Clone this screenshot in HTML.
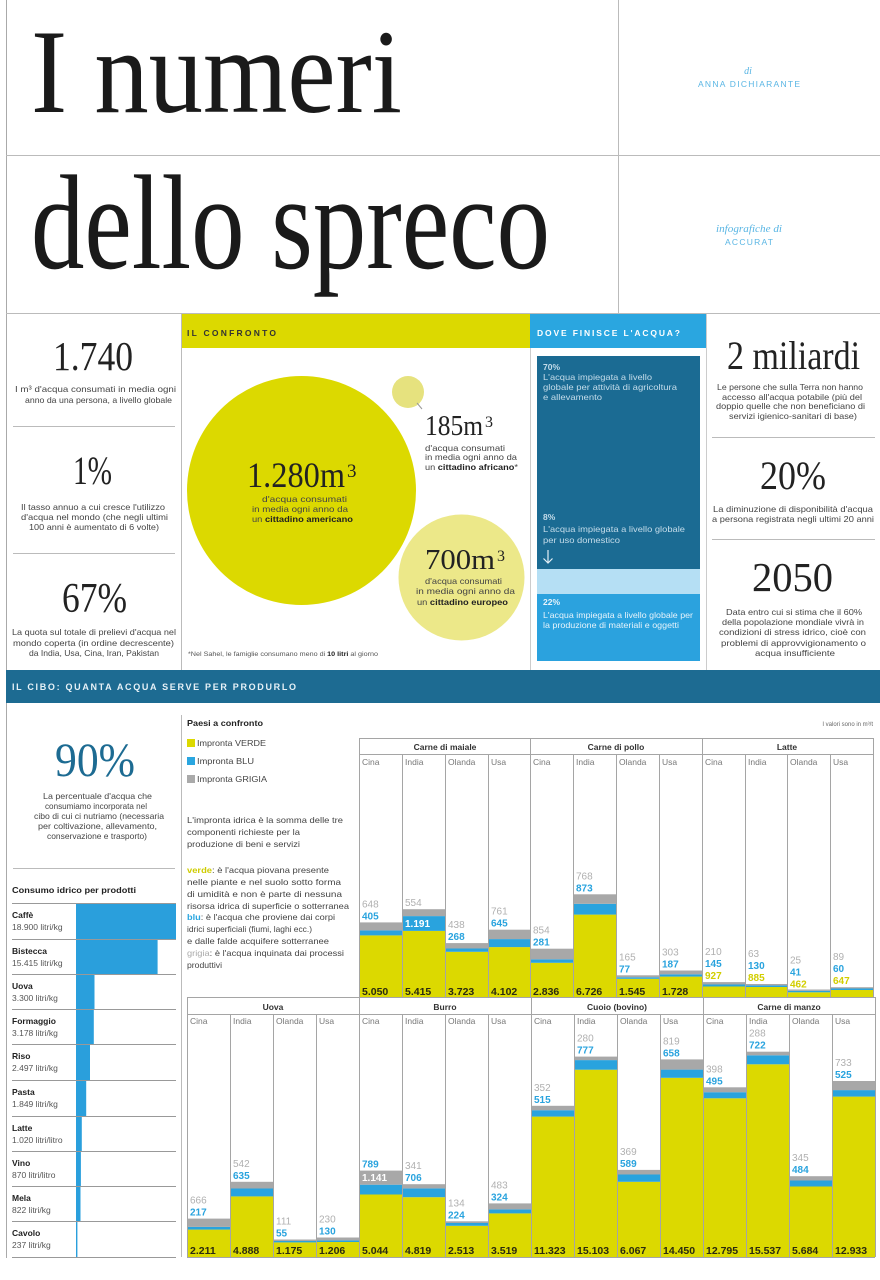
<!DOCTYPE html>
<html><head><meta charset="utf-8"><style>
html,body{margin:0;padding:0;background:#fff}
svg{display:block}
.s{font-family:"Liberation Sans",sans-serif}
.r{font-family:"Liberation Serif",serif}
.t{font-family:"Liberation Sans",sans-serif;font-size:8.5px;fill:#444}
.g{font-family:"Liberation Sans",sans-serif;font-size:10px;fill:#b0b0b0}
.b{font-family:"Liberation Sans",sans-serif;font-size:10px;fill:#29a3de;font-weight:bold}
.y{font-family:"Liberation Sans",sans-serif;font-size:10px;fill:#d2ce00;font-weight:bold}
.v{font-family:"Liberation Sans",sans-serif;font-size:10.5px;fill:#2a2a10;font-weight:bold}
.w{font-family:"Liberation Sans",sans-serif;font-size:10px;fill:#fff;font-weight:bold}
.c{font-family:"Liberation Sans",sans-serif;font-size:8.5px;fill:#777}
.h{font-family:"Liberation Sans",sans-serif;font-size:8.5px;fill:#333;font-weight:bold}
.pn{font-family:"Liberation Sans",sans-serif;font-size:8.5px;fill:#222;font-weight:bold}
.pv{font-family:"Liberation Sans",sans-serif;font-size:8.5px;fill:#555}
.dk{font-family:"Liberation Sans",sans-serif;font-size:8.5px;fill:#c4dcea}
.md{font-family:"Liberation Sans",sans-serif;font-size:8.5px;fill:#e6f3fb}
</style></head><body>
<svg width="880" height="1280" viewBox="0 0 880 1280" xmlns="http://www.w3.org/2000/svg">
<rect width="880" height="1280" fill="#fff"/>

<!-- frame lines -->
<line x1="6.5" y1="0" x2="6.5" y2="1258" stroke="#aaa" stroke-width="1"/>
<line x1="6" y1="155.5" x2="880" y2="155.5" stroke="#bbb"/>
<line x1="6" y1="313.5" x2="880" y2="313.5" stroke="#bbb"/>
<line x1="618.5" y1="0" x2="618.5" y2="313" stroke="#bbb"/>

<!-- title -->
<text x="31" y="112" class="r" font-size="120" fill="#1a1a1a" textLength="371" lengthAdjust="spacingAndGlyphs">I numeri</text>
<text x="31" y="268" class="r" font-size="135" fill="#1a1a1a" textLength="519" lengthAdjust="spacingAndGlyphs">dello spreco</text>

<!-- credits -->
<text x="748" y="74" class="r" font-size="10" font-style="italic" fill="#5ab6e4" text-anchor="middle">di</text>
<text x="698" y="87" class="s" font-size="8.5" fill="#5ab6e4" textLength="102">ANNA DICHIARANTE</text>
<text x="716" y="232" class="r" font-size="10.5" font-style="italic" fill="#5ab6e4" textLength="66" lengthAdjust="spacingAndGlyphs">infografiche di</text>
<text x="725" y="245" class="s" font-size="8.5" fill="#5ab6e4" textLength="48">ACCURAT</text>

<!-- row 3 bands -->
<rect x="182" y="314" width="348" height="34" fill="#dcd900"/>
<text x="187" y="336" class="s" font-size="8.5" font-weight="bold" fill="#333" textLength="89">IL CONFRONTO</text>
<rect x="530" y="314" width="176" height="34" fill="#2aa6e0"/>
<text x="537" y="336" class="s" font-size="8.5" font-weight="bold" fill="#fff" textLength="143">DOVE FINISCE L'ACQUA?</text>
<line x1="181.5" y1="314" x2="181.5" y2="670" stroke="#bbb"/>
<line x1="530.5" y1="348" x2="530.5" y2="670" stroke="#ccc"/>
<line x1="706.5" y1="314" x2="706.5" y2="670" stroke="#ccc"/>

<!-- left stats -->
<text x="53" y="370" class="r" font-size="41" fill="#222" textLength="80" lengthAdjust="spacingAndGlyphs">1.740</text>
<text x="15" y="392" class="t" textLength="161" lengthAdjust="spacingAndGlyphs">I m³ d'acqua consumati in media ogni</text>
<text x="25" y="403" class="t" textLength="147" lengthAdjust="spacingAndGlyphs">anno da una persona, a livello globale</text>
<line x1="13" y1="426.5" x2="175" y2="426.5" stroke="#bbb"/>
<text x="73" y="484" class="r" font-size="40" fill="#222" textLength="39" lengthAdjust="spacingAndGlyphs">1%</text>
<text x="21" y="510" class="t" textLength="144" lengthAdjust="spacingAndGlyphs">Il tasso annuo a cui cresce l'utilizzo</text>
<text x="21" y="520" class="t" textLength="147" lengthAdjust="spacingAndGlyphs">d'acqua nel mondo (che negli ultimi</text>
<text x="29" y="530" class="t" textLength="130" lengthAdjust="spacingAndGlyphs">100 anni è aumentato di 6 volte)</text>
<line x1="13" y1="553.5" x2="175" y2="553.5" stroke="#bbb"/>
<text x="62" y="612" class="r" font-size="42" fill="#222" textLength="65" lengthAdjust="spacingAndGlyphs">67%</text>
<text x="12" y="635" class="t" textLength="164" lengthAdjust="spacingAndGlyphs">La quota sul totale di prelievi d'acqua nel</text>
<text x="13" y="646" class="t" textLength="161" lengthAdjust="spacingAndGlyphs">mondo coperta (in ordine decrescente)</text>
<text x="29" y="656" class="t" textLength="130" lengthAdjust="spacingAndGlyphs">da India, Usa, Cina, Iran, Pakistan</text>

<!-- bubbles -->
<circle cx="301.5" cy="490.5" r="114.5" fill="#dcd900"/>
<circle cx="408" cy="392" r="16" fill="#e6e27e"/>
<line x1="417" y1="403" x2="422" y2="409" stroke="#999" stroke-width="1"/>
<circle cx="461.5" cy="577.5" r="63" fill="#ece889"/>
<text x="247" y="487" class="r" font-size="36" fill="#222" textLength="98" lengthAdjust="spacingAndGlyphs">1.280m</text>
<text x="347" y="477" class="r" font-size="19" fill="#222">3</text>
<text x="262" y="502" class="t" fill="#333" textLength="85" lengthAdjust="spacingAndGlyphs">d'acqua consumati</text>
<text x="252" y="512" class="t" textLength="96" lengthAdjust="spacingAndGlyphs">in media ogni anno da</text>
<text x="252" y="522" class="t" textLength="101" lengthAdjust="spacingAndGlyphs">un <tspan font-weight="bold" fill="#222">cittadino americano</tspan></text>
<text x="425" y="435" class="r" font-size="29" fill="#222" textLength="58" lengthAdjust="spacingAndGlyphs">185m</text>
<text x="485" y="427" class="r" font-size="16" fill="#222">3</text>
<text x="425" y="451" class="t" textLength="80" lengthAdjust="spacingAndGlyphs">d'acqua consumati</text>
<text x="425" y="460" class="t" textLength="92" lengthAdjust="spacingAndGlyphs">in media ogni anno da</text>
<text x="425" y="470" class="t" textLength="93" lengthAdjust="spacingAndGlyphs">un <tspan font-weight="bold" fill="#222">cittadino africano</tspan>*</text>
<text x="425" y="569" class="r" font-size="29" fill="#222" textLength="70" lengthAdjust="spacingAndGlyphs">700m</text>
<text x="497" y="561" class="r" font-size="16" fill="#222">3</text>
<text x="425" y="584" class="t" textLength="77" lengthAdjust="spacingAndGlyphs">d'acqua consumati</text>
<text x="416" y="594" class="t" textLength="99" lengthAdjust="spacingAndGlyphs">in media ogni anno da</text>
<text x="417" y="605" class="t" textLength="91" lengthAdjust="spacingAndGlyphs">un <tspan font-weight="bold" fill="#222">cittadino europeo</tspan></text>
<text x="188" y="656" class="s" font-size="6" fill="#555" textLength="190" lengthAdjust="spacingAndGlyphs">*Nel Sahel, le famiglie consumano meno di <tspan font-weight="bold" fill="#222">10 litri</tspan> al giorno</text>

<!-- blue panel -->
<rect x="537" y="356" width="163" height="213" fill="#1b6b93"/>
<rect x="537" y="569" width="163" height="25" fill="#b5dff4"/>
<rect x="537" y="594" width="163" height="67" fill="#2ba2de"/>
<text x="543" y="370" class="dk" font-weight="bold" fill="#e3eff6">70%</text>
<text x="543" y="380" class="dk" textLength="109" lengthAdjust="spacingAndGlyphs">L'acqua impiegata a livello</text>
<text x="543" y="390" class="dk" textLength="134" lengthAdjust="spacingAndGlyphs">globale per attività di agricoltura</text>
<text x="543" y="400" class="dk" textLength="59" lengthAdjust="spacingAndGlyphs">e allevamento</text>
<text x="543" y="520" class="dk" font-weight="bold" fill="#e3eff6">8%</text>
<text x="543" y="532" class="dk" textLength="142" lengthAdjust="spacingAndGlyphs">L'acqua impiegata a livello globale</text>
<text x="543" y="543" class="dk" textLength="77" lengthAdjust="spacingAndGlyphs">per uso domestico</text>
<path d="M548 550 V563 M543.5 558.5 L548 563 L552.5 558.5" stroke="#e3eff6" stroke-width="1.2" fill="none"/>
<text x="543" y="605" class="md" font-weight="bold">22%</text>
<text x="543" y="618" class="md" textLength="150" lengthAdjust="spacingAndGlyphs">L'acqua impiegata a livello globale per</text>
<text x="543" y="628" class="md" textLength="136" lengthAdjust="spacingAndGlyphs">la produzione di materiali e oggetti</text>

<!-- right stats -->
<text x="727" y="369" class="r" font-size="40" fill="#222" textLength="133" lengthAdjust="spacingAndGlyphs">2 miliardi</text>
<text x="717" y="390" class="t" textLength="146" lengthAdjust="spacingAndGlyphs">Le persone che sulla Terra non hanno</text>
<text x="722" y="400" class="t" textLength="140" lengthAdjust="spacingAndGlyphs">accesso all'acqua potabile (più del</text>
<text x="716" y="409" class="t" textLength="149" lengthAdjust="spacingAndGlyphs">doppio quelle che non beneficiano di</text>
<text x="729" y="419" class="t" textLength="128" lengthAdjust="spacingAndGlyphs">servizi igienico-sanitari di base)</text>
<line x1="712" y1="437.5" x2="875" y2="437.5" stroke="#bbb"/>
<text x="760" y="489" class="r" font-size="40" fill="#222" textLength="66" lengthAdjust="spacingAndGlyphs">20%</text>
<text x="713" y="512" class="t" textLength="160" lengthAdjust="spacingAndGlyphs">La diminuzione di disponibilità d'acqua</text>
<text x="712" y="522" class="t" textLength="162" lengthAdjust="spacingAndGlyphs">a persona registrata negli ultimi 20 anni</text>
<line x1="712" y1="539.5" x2="875" y2="539.5" stroke="#bbb"/>
<text x="752" y="591" class="r" font-size="41" fill="#222" textLength="81" lengthAdjust="spacingAndGlyphs">2050</text>
<text x="726" y="615" class="t" textLength="136" lengthAdjust="spacingAndGlyphs">Data entro cui si stima che il 60%</text>
<text x="722" y="625" class="t" textLength="142" lengthAdjust="spacingAndGlyphs">della popolazione mondiale vivrà in</text>
<text x="719" y="635" class="t" textLength="147" lengthAdjust="spacingAndGlyphs">condizioni di stress idrico, cioè con</text>
<text x="721" y="646" class="t" textLength="145" lengthAdjust="spacingAndGlyphs">problemi di approvvigionamento o</text>
<text x="755" y="656" class="t" textLength="80" lengthAdjust="spacingAndGlyphs">acqua insufficiente</text>

<!-- teal band -->
<rect x="6" y="670" width="874" height="33" fill="#1d6b92"/>
<text x="12" y="690" class="s" font-size="9" font-weight="bold" fill="#e6f1f7" textLength="284">IL CIBO: QUANTA ACQUA SERVE PER PRODURLO</text>

<!-- bottom left -->
<text x="55" y="776" class="r" font-size="48" fill="#1d6b92" textLength="80" lengthAdjust="spacingAndGlyphs">90%</text>
<text x="43" y="799" class="t" textLength="109" lengthAdjust="spacingAndGlyphs">La percentuale d'acqua che</text>
<text x="45" y="809" class="t" textLength="102" lengthAdjust="spacingAndGlyphs">consumiamo incorporata nel</text>
<text x="34" y="819" class="t" textLength="130" lengthAdjust="spacingAndGlyphs">cibo di cui ci nutriamo (necessaria</text>
<text x="38" y="829" class="t" textLength="119" lengthAdjust="spacingAndGlyphs">per coltivazione, allevamento,</text>
<text x="47" y="839" class="t" textLength="100" lengthAdjust="spacingAndGlyphs">conservazione e trasporto)</text>
<line x1="13" y1="868.5" x2="175" y2="868.5" stroke="#bbb"/>
<text x="12" y="893" class="s" font-size="8.5" font-weight="bold" fill="#222" textLength="124" lengthAdjust="spacingAndGlyphs">Consumo idrico per prodotti</text>

<!-- product bars -->
<rect x="76" y="903" width="100" height="36" fill="#2a9fdc"/>
<rect x="76" y="939" width="81.6" height="35" fill="#2a9fdc"/>
<rect x="76" y="974" width="18.5" height="35" fill="#2a9fdc"/>
<rect x="76" y="1009" width="17.8" height="35" fill="#2a9fdc"/>
<rect x="76" y="1044" width="14" height="36" fill="#2a9fdc"/>
<rect x="76" y="1080" width="10.2" height="36" fill="#2a9fdc"/>
<rect x="76" y="1116" width="5.8" height="35" fill="#2a9fdc"/>
<rect x="76" y="1151" width="4.9" height="35" fill="#2a9fdc"/>
<rect x="76" y="1186" width="4.5" height="35" fill="#2a9fdc"/>
<rect x="76" y="1221" width="1.4" height="36" fill="#2a9fdc"/>
<g stroke="#999" stroke-width="1">
<line x1="12" y1="903.5" x2="176" y2="903.5"/>
<line x1="12" y1="939.5" x2="176" y2="939.5"/>
<line x1="12" y1="974.5" x2="176" y2="974.5"/>
<line x1="12" y1="1009.5" x2="176" y2="1009.5"/>
<line x1="12" y1="1044.5" x2="176" y2="1044.5"/>
<line x1="12" y1="1080.5" x2="176" y2="1080.5"/>
<line x1="12" y1="1116.5" x2="176" y2="1116.5"/>
<line x1="12" y1="1151.5" x2="176" y2="1151.5"/>
<line x1="12" y1="1186.5" x2="176" y2="1186.5"/>
<line x1="12" y1="1221.5" x2="176" y2="1221.5"/>
<line x1="12" y1="1257.5" x2="176" y2="1257.5"/>
</g>
<text x="12" y="918" class="pn">Caffè</text><text x="12" y="930" class="pv">18.900 litri/kg</text>
<text x="12" y="954" class="pn">Bistecca</text><text x="12" y="966" class="pv">15.415 litri/kg</text>
<text x="12" y="989" class="pn">Uova</text><text x="12" y="1001" class="pv">3.300 litri/kg</text>
<text x="12" y="1024" class="pn">Formaggio</text><text x="12" y="1036" class="pv">3.178 litri/kg</text>
<text x="12" y="1059" class="pn">Riso</text><text x="12" y="1071" class="pv">2.497 litri/kg</text>
<text x="12" y="1095" class="pn">Pasta</text><text x="12" y="1107" class="pv">1.849 litri/kg</text>
<text x="12" y="1131" class="pn">Latte</text><text x="12" y="1143" class="pv">1.020 litri/litro</text>
<text x="12" y="1166" class="pn">Vino</text><text x="12" y="1178" class="pv">870 litri/litro</text>
<text x="12" y="1201" class="pn">Mela</text><text x="12" y="1213" class="pv">822 litri/kg</text>
<text x="12" y="1236" class="pn">Cavolo</text><text x="12" y="1248" class="pv">237 litri/kg</text>

<!-- middle legend & text -->
<line x1="181.5" y1="715" x2="181.5" y2="1257" stroke="#bbb"/>
<text x="187" y="726" class="s" font-size="8.5" font-weight="bold" fill="#222" textLength="76" lengthAdjust="spacingAndGlyphs">Paesi a confronto</text>
<rect x="187" y="739" width="8" height="8" fill="#dcd900"/>
<text x="197" y="746" class="t" textLength="69" lengthAdjust="spacingAndGlyphs">Impronta VERDE</text>
<rect x="187" y="757" width="8" height="8" fill="#2aa6e0"/>
<text x="197" y="764" class="t" textLength="57" lengthAdjust="spacingAndGlyphs">Impronta BLU</text>
<rect x="187" y="775" width="8" height="8" fill="#aaa"/>
<text x="197" y="782" class="t" textLength="70" lengthAdjust="spacingAndGlyphs">Impronta GRIGIA</text>
<text x="873" y="726" class="s" font-size="6" fill="#666" text-anchor="end">I valori sono in m³/t</text>

<text x="187" y="823" class="t" textLength="156" lengthAdjust="spacingAndGlyphs">L'impronta idrica è la somma delle tre</text>
<text x="187" y="835" class="t" textLength="113" lengthAdjust="spacingAndGlyphs">componenti richieste per la</text>
<text x="187" y="847" class="t" textLength="113" lengthAdjust="spacingAndGlyphs">produzione di beni e servizi</text>
<text x="187" y="873" class="t" textLength="142" lengthAdjust="spacingAndGlyphs"><tspan fill="#cfcc00" font-weight="bold">verde</tspan>: è l'acqua piovana presente</text>
<text x="187" y="885" class="t" textLength="154" lengthAdjust="spacingAndGlyphs">nelle piante e nel suolo sotto forma</text>
<text x="187" y="897" class="t" textLength="155" lengthAdjust="spacingAndGlyphs">di umidità e non è parte di nessuna</text>
<text x="187" y="909" class="t" textLength="162" lengthAdjust="spacingAndGlyphs">risorsa idrica di superficie o sotterranea</text>
<text x="187" y="920" class="t" textLength="148" lengthAdjust="spacingAndGlyphs"><tspan fill="#2aa6e0" font-weight="bold">blu</tspan>: è l'acqua che proviene dai corpi</text>
<text x="187" y="932" class="t" textLength="125" lengthAdjust="spacingAndGlyphs">idrici superficiali (fiumi, laghi ecc.)</text>
<text x="187" y="944" class="t" textLength="142" lengthAdjust="spacingAndGlyphs">e dalle falde acquifere sotterranee</text>
<text x="187" y="956" class="t" textLength="157" lengthAdjust="spacingAndGlyphs"><tspan fill="#aaa">grigia</tspan>: è l'acqua inquinata dai processi</text>
<text x="187" y="968" class="t" textLength="35" lengthAdjust="spacingAndGlyphs">produttivi</text>

<!-- ===== TOP CHART ===== -->
<g>
<!-- Maiale -->
<rect x="359" y="935.4" width="43" height="62.6" fill="#dcd900"/><rect x="359" y="930.4" width="43" height="5" fill="#29a3de"/><rect x="359" y="922.4" width="43" height="8" fill="#a8a8a8"/>
<rect x="402" y="930.9" width="43" height="67.1" fill="#dcd900"/><rect x="402" y="916.1" width="43" height="14.8" fill="#29a3de"/><rect x="402" y="909.2" width="43" height="6.9" fill="#a8a8a8"/>
<rect x="445" y="951.8" width="43" height="46.2" fill="#dcd900"/><rect x="445" y="948.5" width="43" height="3.3" fill="#29a3de"/><rect x="445" y="943.1" width="43" height="5.4" fill="#a8a8a8"/>
<rect x="488" y="947.1" width="42" height="50.9" fill="#dcd900"/><rect x="488" y="939.1" width="42" height="8" fill="#29a3de"/><rect x="488" y="929.7" width="42" height="9.4" fill="#a8a8a8"/>
<!-- Pollo -->
<rect x="530" y="962.8" width="43" height="35.2" fill="#dcd900"/><rect x="530" y="959.3" width="43" height="3.5" fill="#29a3de"/><rect x="530" y="948.7" width="43" height="10.6" fill="#a8a8a8"/>
<rect x="573" y="914.6" width="43" height="83.4" fill="#dcd900"/><rect x="573" y="903.8" width="43" height="10.8" fill="#29a3de"/><rect x="573" y="894.3" width="43" height="9.5" fill="#a8a8a8"/>
<rect x="616" y="978.8" width="43" height="19.2" fill="#dcd900"/><rect x="616" y="977.3" width="43" height="1.5" fill="#29a3de"/><rect x="616" y="975.3" width="43" height="2" fill="#a8a8a8"/>
<rect x="659" y="976.6" width="43" height="21.4" fill="#dcd900"/><rect x="659" y="974.3" width="43" height="2.3" fill="#29a3de"/><rect x="659" y="970.5" width="43" height="3.8" fill="#a8a8a8"/>
<!-- Latte -->
<rect x="702" y="986.5" width="43" height="11.5" fill="#dcd900"/><rect x="702" y="984.5" width="43" height="2" fill="#29a3de"/><rect x="702" y="982.1" width="43" height="2.4" fill="#a8a8a8"/>
<rect x="745" y="987" width="42" height="11" fill="#dcd900"/><rect x="745" y="985.4" width="42" height="1.6" fill="#29a3de"/><rect x="745" y="984" width="42" height="1.4" fill="#a8a8a8"/>
<rect x="787" y="992.3" width="43" height="5.7" fill="#dcd900"/><rect x="787" y="990.8" width="43" height="1.5" fill="#29a3de"/><rect x="787" y="989.5" width="43" height="1.3" fill="#a8a8a8"/>
<rect x="830" y="990" width="43" height="8" fill="#dcd900"/><rect x="830" y="988.5" width="43" height="1.5" fill="#29a3de"/><rect x="830" y="987.2" width="43" height="1.3" fill="#a8a8a8"/>
</g>
<g stroke="#a5a5a5" stroke-width="1">
<line x1="359" y1="738.5" x2="873" y2="738.5"/>
<line x1="359" y1="754.5" x2="873" y2="754.5"/>
<line x1="359.5" y1="738" x2="359.5" y2="998"/>
<line x1="402.5" y1="754" x2="402.5" y2="998"/>
<line x1="445.5" y1="754" x2="445.5" y2="998"/>
<line x1="488.5" y1="754" x2="488.5" y2="998"/>
<line x1="530.5" y1="738" x2="530.5" y2="998"/>
<line x1="573.5" y1="754" x2="573.5" y2="998"/>
<line x1="616.5" y1="754" x2="616.5" y2="998"/>
<line x1="659.5" y1="754" x2="659.5" y2="998"/>
<line x1="702.5" y1="738" x2="702.5" y2="998"/>
<line x1="745.5" y1="754" x2="745.5" y2="998"/>
<line x1="787.5" y1="754" x2="787.5" y2="998"/>
<line x1="830.5" y1="754" x2="830.5" y2="998"/>
<line x1="873.5" y1="738" x2="873.5" y2="998"/>
</g>
<text x="445" y="750" class="h" text-anchor="middle">Carne di maiale</text>
<text x="616" y="750" class="h" text-anchor="middle">Carne di pollo</text>
<text x="787" y="750" class="h" text-anchor="middle">Latte</text>
<text x="362" y="765" class="c">Cina</text><text x="405" y="765" class="c">India</text><text x="448" y="765" class="c">Olanda</text><text x="491" y="765" class="c">Usa</text>
<text x="533" y="765" class="c">Cina</text><text x="576" y="765" class="c">India</text><text x="619" y="765" class="c">Olanda</text><text x="662" y="765" class="c">Usa</text>
<text x="705" y="765" class="c">Cina</text><text x="748" y="765" class="c">India</text><text x="790" y="765" class="c">Olanda</text><text x="833" y="765" class="c">Usa</text>

<text x="362" y="907.4" class="g">648</text><text x="362" y="919.4" class="b">405</text><text x="362" y="995" class="v">5.050</text>
<text x="405" y="906" class="g">554</text><text x="405" y="927" class="w">1.191</text><text x="405" y="995" class="v">5.415</text>
<text x="448" y="928.1" class="g">438</text><text x="448" y="940.1" class="b">268</text><text x="448" y="995" class="v">3.723</text>
<text x="491" y="914.7" class="g">761</text><text x="491" y="926.7" class="b">645</text><text x="491" y="995" class="v">4.102</text>
<text x="533" y="933.7" class="g">854</text><text x="533" y="945.7" class="b">281</text><text x="533" y="995" class="v">2.836</text>
<text x="576" y="879.3" class="g">768</text><text x="576" y="891.3" class="b">873</text><text x="576" y="995" class="v">6.726</text>
<text x="619" y="960.3" class="g">165</text><text x="619" y="972.3" class="b">77</text><text x="619" y="995" class="v">1.545</text>
<text x="662" y="955.5" class="g">303</text><text x="662" y="967.5" class="b">187</text><text x="662" y="995" class="v">1.728</text>
<text x="705" y="955" class="g">210</text><text x="705" y="967" class="b">145</text><text x="705" y="979" class="y">927</text>
<text x="748" y="957" class="g">63</text><text x="748" y="969" class="b">130</text><text x="748" y="981" class="y">885</text>
<text x="790" y="963.5" class="g">25</text><text x="790" y="975.5" class="b">41</text><text x="790" y="987.5" class="y">462</text>
<text x="833" y="960" class="g">89</text><text x="833" y="972" class="b">60</text><text x="833" y="984" class="y">647</text>

<!-- ===== BOTTOM CHART ===== -->
<g>
<rect x="187" y="1229.6" width="43" height="27.4" fill="#dcd900"/><rect x="187" y="1226.9" width="43" height="2.7" fill="#29a3de"/><rect x="187" y="1218.6" width="43" height="8.3" fill="#a8a8a8"/>
<rect x="230" y="1196.4" width="43" height="60.6" fill="#dcd900"/><rect x="230" y="1188.5" width="43" height="7.9" fill="#29a3de"/><rect x="230" y="1181.8" width="43" height="6.7" fill="#a8a8a8"/>
<rect x="273" y="1242.4" width="43" height="14.6" fill="#dcd900"/><rect x="273" y="1241" width="43" height="1.4" fill="#29a3de"/><rect x="273" y="1239.5" width="43" height="1.5" fill="#a8a8a8"/>
<rect x="316" y="1242" width="43" height="15" fill="#dcd900"/><rect x="316" y="1240.4" width="43" height="1.6" fill="#29a3de"/><rect x="316" y="1237.5" width="43" height="2.9" fill="#a8a8a8"/>
<rect x="359" y="1194.5" width="43" height="62.5" fill="#dcd900"/><rect x="359" y="1184.7" width="43" height="9.8" fill="#29a3de"/><rect x="359" y="1170.6" width="43" height="14.1" fill="#a8a8a8"/>
<rect x="402" y="1197.2" width="43" height="59.8" fill="#dcd900"/><rect x="402" y="1188.4" width="43" height="8.8" fill="#29a3de"/><rect x="402" y="1184.2" width="43" height="4.2" fill="#a8a8a8"/>
<rect x="445" y="1225.8" width="43" height="31.2" fill="#dcd900"/><rect x="445" y="1223" width="43" height="2.8" fill="#29a3de"/><rect x="445" y="1221.3" width="43" height="1.7" fill="#a8a8a8"/>
<rect x="488" y="1213.4" width="43" height="43.6" fill="#dcd900"/><rect x="488" y="1209.4" width="43" height="4" fill="#29a3de"/><rect x="488" y="1203.4" width="43" height="6" fill="#a8a8a8"/>
<rect x="531" y="1116.6" width="43" height="140.4" fill="#dcd900"/><rect x="531" y="1110.2" width="43" height="6.4" fill="#29a3de"/><rect x="531" y="1105.8" width="43" height="4.4" fill="#a8a8a8"/>
<rect x="574" y="1069.7" width="43" height="187.3" fill="#dcd900"/><rect x="574" y="1060.1" width="43" height="9.6" fill="#29a3de"/><rect x="574" y="1056.6" width="43" height="3.5" fill="#a8a8a8"/>
<rect x="617" y="1181.8" width="43" height="75.2" fill="#dcd900"/><rect x="617" y="1174.5" width="43" height="7.3" fill="#29a3de"/><rect x="617" y="1169.9" width="43" height="4.6" fill="#a8a8a8"/>
<rect x="660" y="1077.8" width="43" height="179.2" fill="#dcd900"/><rect x="660" y="1069.6" width="43" height="8.2" fill="#29a3de"/><rect x="660" y="1059.4" width="43" height="10.2" fill="#a8a8a8"/>
<rect x="703" y="1098.3" width="43" height="158.7" fill="#dcd900"/><rect x="703" y="1092.2" width="43" height="6.1" fill="#29a3de"/><rect x="703" y="1087.3" width="43" height="4.9" fill="#a8a8a8"/>
<rect x="746" y="1064.3" width="43" height="192.7" fill="#dcd900"/><rect x="746" y="1055.3" width="43" height="9" fill="#29a3de"/><rect x="746" y="1051.7" width="43" height="3.6" fill="#a8a8a8"/>
<rect x="789" y="1186.5" width="43" height="70.5" fill="#dcd900"/><rect x="789" y="1180.5" width="43" height="6" fill="#29a3de"/><rect x="789" y="1176.2" width="43" height="4.3" fill="#a8a8a8"/>
<rect x="832" y="1096.6" width="43" height="160.4" fill="#dcd900"/><rect x="832" y="1090.1" width="43" height="6.5" fill="#29a3de"/><rect x="832" y="1081" width="43" height="9.1" fill="#a8a8a8"/>
</g>
<g stroke="#a5a5a5" stroke-width="1">
<line x1="187" y1="997.5" x2="875" y2="997.5"/>
<line x1="187" y1="1014.5" x2="875" y2="1014.5"/>
<line x1="187" y1="1257.5" x2="875" y2="1257.5"/>
<line x1="187.5" y1="997" x2="187.5" y2="1257"/>
<line x1="230.5" y1="1014" x2="230.5" y2="1257"/>
<line x1="273.5" y1="1014" x2="273.5" y2="1257"/>
<line x1="316.5" y1="1014" x2="316.5" y2="1257"/>
<line x1="359.5" y1="997" x2="359.5" y2="1257"/>
<line x1="402.5" y1="1014" x2="402.5" y2="1257"/>
<line x1="445.5" y1="1014" x2="445.5" y2="1257"/>
<line x1="488.5" y1="1014" x2="488.5" y2="1257"/>
<line x1="531.5" y1="997" x2="531.5" y2="1257"/>
<line x1="574.5" y1="1014" x2="574.5" y2="1257"/>
<line x1="617.5" y1="1014" x2="617.5" y2="1257"/>
<line x1="660.5" y1="1014" x2="660.5" y2="1257"/>
<line x1="703.5" y1="997" x2="703.5" y2="1257"/>
<line x1="746.5" y1="1014" x2="746.5" y2="1257"/>
<line x1="789.5" y1="1014" x2="789.5" y2="1257"/>
<line x1="832.5" y1="1014" x2="832.5" y2="1257"/>
<line x1="875.5" y1="997" x2="875.5" y2="1257"/>
</g>
<text x="273" y="1010" class="h" text-anchor="middle">Uova</text>
<text x="445" y="1010" class="h" text-anchor="middle">Burro</text>
<text x="617" y="1010" class="h" text-anchor="middle">Cuoio (bovino)</text>
<text x="789" y="1010" class="h" text-anchor="middle">Carne di manzo</text>
<text x="190" y="1024" class="c">Cina</text><text x="233" y="1024" class="c">India</text><text x="276" y="1024" class="c">Olanda</text><text x="319" y="1024" class="c">Usa</text>
<text x="362" y="1024" class="c">Cina</text><text x="405" y="1024" class="c">India</text><text x="448" y="1024" class="c">Olanda</text><text x="491" y="1024" class="c">Usa</text>
<text x="534" y="1024" class="c">Cina</text><text x="577" y="1024" class="c">India</text><text x="620" y="1024" class="c">Olanda</text><text x="663" y="1024" class="c">Usa</text>
<text x="706" y="1024" class="c">Cina</text><text x="749" y="1024" class="c">India</text><text x="792" y="1024" class="c">Olanda</text><text x="835" y="1024" class="c">Usa</text>

<text x="190" y="1203.6" class="g">666</text><text x="190" y="1215.6" class="b">217</text><text x="190" y="1254" class="v">2.211</text>
<text x="233" y="1166.8" class="g">542</text><text x="233" y="1178.8" class="b">635</text><text x="233" y="1254" class="v">4.888</text>
<text x="276" y="1224.5" class="g">111</text><text x="276" y="1236.5" class="b">55</text><text x="276" y="1254" class="v">1.175</text>
<text x="319" y="1222.5" class="g">230</text><text x="319" y="1234.5" class="b">130</text><text x="319" y="1254" class="v">1.206</text>
<text x="362" y="1167.6" class="b">789</text><text x="362" y="1181" class="w">1.141</text><text x="362" y="1254" class="v">5.044</text>
<text x="405" y="1169.2" class="g">341</text><text x="405" y="1181.2" class="b">706</text><text x="405" y="1254" class="v">4.819</text>
<text x="448" y="1206.3" class="g">134</text><text x="448" y="1218.3" class="b">224</text><text x="448" y="1254" class="v">2.513</text>
<text x="491" y="1188.4" class="g">483</text><text x="491" y="1200.4" class="b">324</text><text x="491" y="1254" class="v">3.519</text>
<text x="534" y="1090.8" class="g">352</text><text x="534" y="1102.8" class="b">515</text><text x="534" y="1254" class="v">11.323</text>
<text x="577" y="1041.6" class="g">280</text><text x="577" y="1053.6" class="b">777</text><text x="577" y="1254" class="v">15.103</text>
<text x="620" y="1154.9" class="g">369</text><text x="620" y="1166.9" class="b">589</text><text x="620" y="1254" class="v">6.067</text>
<text x="663" y="1044.4" class="g">819</text><text x="663" y="1056.4" class="b">658</text><text x="663" y="1254" class="v">14.450</text>
<text x="706" y="1072.3" class="g">398</text><text x="706" y="1084.3" class="b">495</text><text x="706" y="1254" class="v">12.795</text>
<text x="749" y="1036.7" class="g">288</text><text x="749" y="1048.7" class="b">722</text><text x="749" y="1254" class="v">15.537</text>
<text x="792" y="1161.2" class="g">345</text><text x="792" y="1173.2" class="b">484</text><text x="792" y="1254" class="v">5.684</text>
<text x="835" y="1066" class="g">733</text><text x="835" y="1078" class="b">525</text><text x="835" y="1254" class="v">12.933</text>
</svg>
</body></html>
